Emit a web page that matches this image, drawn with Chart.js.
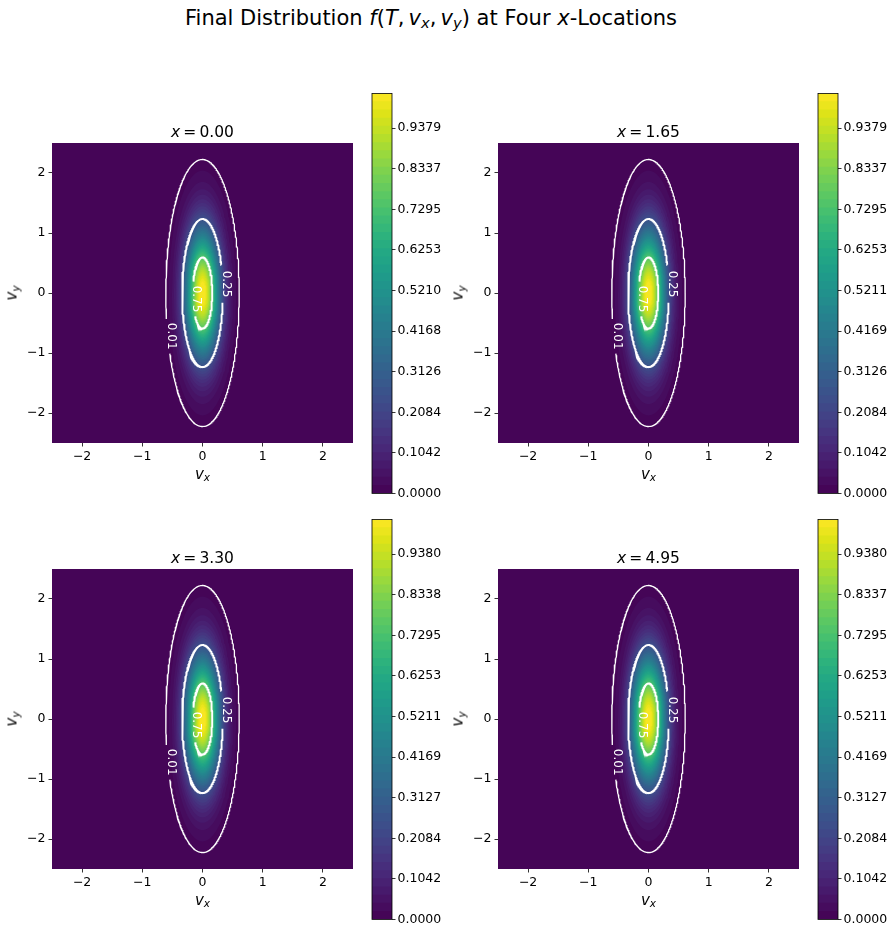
<!DOCTYPE html>
<html><head><meta charset="utf-8">
<script src="https://cdn.jsdelivr.net/npm/chart.js@4.4.1/dist/chart.umd.min.js"></script>
<style>
html,body{margin:0;padding:0;background:#fff;}
#fig{position:relative;width:894px;height:936px;overflow:hidden;font-family:'DejaVu Sans',sans-serif;color:#000;}
canvas{position:absolute;}
.txt{position:absolute;white-space:nowrap;line-height:1;}
.it{font-style:italic;}
.sb{font-size:70%;position:relative;top:0.25em;font-style:italic;}
</style></head><body><div id="fig"></div>
<script>
// ---------------- data ----------------
const panelXLocations = ['0.00', '1.65', '3.30', '4.95'];
const peakValues   = [1.0421, 1.0421, 1.0422, 1.0422];   // max of f in each panel
const sigmaVx      = [0.20, 0.20, 0.20, 0.20];           // Gaussian width along v_x
const sigmaVy      = [0.73, 0.73, 0.73, 0.73];           // Gaussian width along v_y
const colorbarTop  = [1.027, 1.027, 1.027, 1.027];       // top of filled levels
const bandCount    = 49;
const contourLevels = [0.01, 0.25, 0.75];
const contourLabels = ['0.01', '0.25', '0.75'];
const contourLabelVy = [-0.72, 0.15, -0.10];
const contourLabelSide = [-1, 1, -1];
const axisTicks = [-2, -1, 0, 1, 2];
const axisTickLabels = ['\u22122', '\u22121', '0', '1', '2'];
const cbarTickLabels = [
  ['0.0000','0.1042','0.2084','0.3126','0.4168','0.5210','0.6253','0.7295','0.8337','0.9379'],
  ['0.0000','0.1042','0.2084','0.3126','0.4169','0.5211','0.6253','0.7295','0.8337','0.9379'],
  ['0.0000','0.1042','0.2084','0.3127','0.4169','0.5211','0.6253','0.7295','0.8338','0.9380'],
  ['0.0000','0.1042','0.2084','0.3127','0.4169','0.5211','0.6253','0.7295','0.8337','0.9380']
];

// ---------------- layout / style ----------------
const layoutPanels = [
  {px:52, py:143, cbx:372, cby:92},
  {px:498, py:143, cbx:818, cby:92},
  {px:52, py:569, cbx:372, cby:518},
  {px:498, py:569, cbx:818, cby:518}
];
const labelGapHalf = [0.27, 0.31, 0.29];
const lineWidths = [1.3, 1.9, 1.9];
const viridisAnchors = [
 [68,1,84],[71,19,101],[72,36,117],[70,52,128],[65,68,135],[59,82,139],[53,95,141],
 [47,108,142],[42,120,142],[37,132,142],[33,145,140],[30,156,137],[34,168,132],
 [47,180,124],[68,191,112],[94,201,98],[122,209,81],[155,217,60],[189,223,38],
 [223,227,24],[253,231,37]];
function viridis(t){
  t = Math.max(0, Math.min(1, t));
  const f = t*(viridisAnchors.length-1);
  const i = Math.min(Math.floor(f), viridisAnchors.length-2);
  const u = f - i, a = viridisAnchors[i], b = viridisAnchors[i+1];
  const c = a.map((v,k)=>Math.round(v + (b[k]-v)*u));
  return 'rgb(' + c.join(',') + ')';
}
const FONT = "'DejaVu Sans', sans-serif";
const fig = document.getElementById('fig');

function ellipsePts(a, b, n){
  const pts = [];
  for (let j=0;j<=n;j++){
    const th = 2*Math.PI*j/n;
    pts.push({x:a*Math.cos(th), y:b*Math.sin(th)});
  }
  return pts;
}
function radiusFor(A, level){ return Math.sqrt(2*Math.log(A/level)); }

function addText(html, cx, baseline, size, extra){
  const d = document.createElement('div');
  d.className = 'txt';
  d.innerHTML = html;
  d.style.fontSize = size + 'px';
  d.style.left = cx + 'px';
  d.style.top = (baseline - 0.846*size) + 'px';
  d.style.transform = 'translateX(-50%)';
  if (extra) Object.assign(d.style, extra);
  fig.appendChild(d);
  return d;
}
function addRotText(html, cx, cy, size){
  const d = document.createElement('div');
  d.className = 'txt';
  d.innerHTML = html;
  d.style.fontSize = size + 'px';
  d.style.left = cx + 'px';
  d.style.top = cy + 'px';
  d.style.transform = 'translate(-50%,-50%) rotate(-90deg)';
  fig.appendChild(d);
}

// suptitle
addText('Final Distribution <span class="it">f</span>(<span class="it">T</span>,&#8201;<span class="it">v</span><span class="sb">x</span>,&#8201;<span class="it">v</span><span class="sb">y</span>) at Four <span class="it">x</span>-Locations', 431, 25.5, 21);

function makePanel(i){
  const L = layoutPanels[i];
  const A = peakValues[i], top = colorbarTop[i];
  const step = top / bandCount;
  const bandColors = [];
  for (let k=0;k<bandCount;k++) bandColors.push(viridis((k+0.5)/bandCount));

  const datasets = [];
  // filled bands (region f >= level k)
  for (let k=1;k<bandCount;k++){
    const lev = k*step;
    if (lev >= A) break;
    const r = radiusFor(A, lev);
    datasets.push({
      data: ellipsePts(sigmaVx[i]*r, sigmaVy[i]*r, 160),
      showLine:true, fill:'shape', backgroundColor: bandColors[k],
      borderWidth:0, borderColor:'rgba(0,0,0,0)', pointRadius:0,
      order: 10 + (bandCount - k)
    });
  }
  // contour lines with gaps for labels
  contourLevels.forEach((lev, c)=>{
    const r = radiusFor(A, lev);
    const a = sigmaVx[i]*r, b = sigmaVy[i]*r;
    const pts = ellipsePts(a, b, 480).map(p=>{
      if (Math.sign(p.x) === contourLabelSide[c] && Math.abs(p.y - contourLabelVy[c]) < labelGapHalf[c])
        return {x:p.x, y:null};
      return p;
    });
    datasets.push({data:pts, showLine:true, fill:false, borderColor:'#ffffff',
      borderWidth: lineWidths[c], pointRadius:0, spanGaps:false, order: c});
  });

  const bgPlugin = {id:'bg'+i, beforeDatasetsDraw(chart){
    const {ctx, chartArea:ca} = chart;
    ctx.save(); ctx.fillStyle = bandColors[0];
    ctx.fillRect(ca.left, ca.top, ca.right-ca.left, ca.bottom-ca.top); ctx.restore();
  }};
  const labelPlugin = {id:'lbl'+i, afterDatasetsDraw(chart){
    const {ctx} = chart, sx = chart.scales.x, sy = chart.scales.y;
    contourLevels.forEach((lev,c)=>{
      const r = radiusFor(A, lev);
      const a = sigmaVx[i]*r, b = sigmaVy[i]*r;
      const vy = contourLabelVy[c];
      const vx = contourLabelSide[c]*a*Math.sqrt(Math.max(0, 1-(vy/b)*(vy/b)));
      const X = sx.getPixelForValue(vx) + 3, Y = sy.getPixelForValue(vy);
      ctx.save(); ctx.translate(X, Y); ctx.rotate(Math.PI/2);
      ctx.fillStyle = '#ffffff'; ctx.font = '12px ' + FONT;
      ctx.textAlign = 'center'; ctx.textBaseline = 'middle';
      ctx.fillText(contourLabels[c], 0, 0); ctx.restore();
    });
  }};

  const cv = document.createElement('canvas');
  const W = 52+301+10, H = 12+300+36;
  cv.width = W; cv.height = H;
  cv.style.left = (L.px-52)+'px'; cv.style.top = (L.py-12)+'px';
  cv.style.width = W+'px'; cv.style.height = H+'px';
  fig.appendChild(cv);
  const tickFont = {family: FONT, size: 12.5};
  const axisCommon = {
    type:'linear', min:-2.5, max:2.5,
    afterBuildTicks: s => { s.ticks = axisTicks.map(v=>({value:v})); },
    ticks:{callback: v => axisTickLabels[axisTicks.indexOf(v)], font: tickFont, color:'#000',
      autoSkip:false, maxRotation:0, padding:3},
    grid:{display:true, drawOnChartArea:false, drawTicks:true, tickLength:3.5, tickWidth:0.8, tickColor:'#000'},
    border:{display:false}
  };
  new Chart(cv, {
    type:'scatter',
    data:{datasets},
    options:{
      responsive:false, animation:false, devicePixelRatio:1,
      layout:{padding:{left:0, top:12, right:10, bottom:0}},
      plugins:{legend:{display:false}, tooltip:{enabled:false}},
      elements:{line:{tension:0}, point:{radius:0}},
      scales:{
        x: Object.assign({}, axisCommon, {position:'bottom', afterFit: s=>{s.height=36;}}),
        y: Object.assign({}, axisCommon, {position:'left', afterFit: s=>{s.width=52;}})
      }
    },
    plugins:[bgPlugin, labelPlugin]
  });

  // colorbar
  const cb = document.createElement('canvas');
  const CW = 2+20+62, CH = 8+403+8;
  cb.width = CW; cb.height = CH;
  cb.style.left = (L.cbx-2)+'px'; cb.style.top = (L.cby-8)+'px';
  cb.style.width = CW+'px'; cb.style.height = CH+'px';
  fig.appendChild(cb);
  const cbTicks = cbarTickLabels[i].map(s=>parseFloat(s));
  const cbDatasets = [];
  for (let k=0;k<bandCount;k++){
    cbDatasets.push({data:[[k*step - (k>0?step*0.3:0), (k+1)*step]], backgroundColor: bandColors[k],
      borderWidth:0, barPercentage:1, categoryPercentage:1, grouped:false, order:k});
  }
  const outline = {id:'ol'+i, afterDatasetsDraw(chart){
    const {ctx, chartArea:ca} = chart;
    ctx.save(); ctx.strokeStyle = '#000'; ctx.lineWidth = 0.8;
    ctx.strokeRect(ca.left, ca.top, ca.right-ca.left, ca.bottom-ca.top); ctx.restore();
  }};
  new Chart(cb, {
    type:'bar',
    data:{labels:['f'], datasets: cbDatasets},
    options:{
      responsive:false, animation:false, devicePixelRatio:1,
      layout:{padding:{left:2, top:8, right:0, bottom:8}},
      plugins:{legend:{display:false}, tooltip:{enabled:false}},
      scales:{
        x:{display:false},
        y:{position:'right', min:0, max:top,
          afterBuildTicks: s => { s.ticks = cbTicks.map(v=>({value:v})); },
          afterFit: s => { s.width = 62; },
          ticks:{callback: v => cbarTickLabels[i][cbTicks.indexOf(v)], font: tickFont, color:'#000',
            autoSkip:false, padding:2},
          grid:{display:true, drawOnChartArea:false, drawTicks:true, tickLength:3.5, tickWidth:0.8, tickColor:'#000'},
          border:{display:false}}
      }
    },
    plugins:[outline]
  });

  // texts
  const cx = L.px + 150.5;
  addText('<span class="it">x</span>&#8201;=&#8201;' + panelXLocations[i], cx, L.py - 5.3, 15.5);
  addText('<span class="it">v</span><span class="sb">x</span>', cx, L.py + 336.3, 15);
  addRotText('<span class="it">v</span><span class="sb">y</span>', L.px - 40.5, L.py + 150, 15);
}
for (let i=0;i<4;i++) makePanel(i);
</script></body></html>
